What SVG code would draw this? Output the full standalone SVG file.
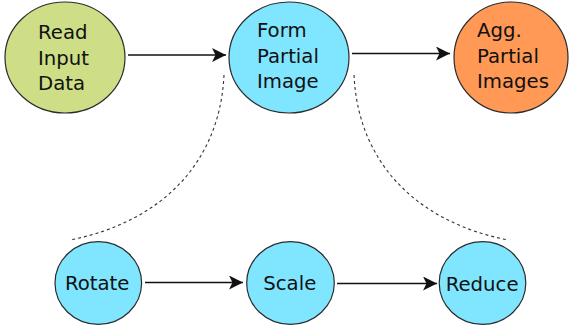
<svg xmlns="http://www.w3.org/2000/svg" width="570" height="329" viewBox="0 0 570 329">
<defs>
<style>
.n{stroke:#2b2b2b;stroke-width:1.2}
.t{font-family:"DejaVu Sans",sans-serif;font-size:19.7px;fill:#111}
.e{stroke:#111;stroke-width:1.6;fill:none}
.d{stroke:#333;stroke-width:1.1;fill:none;stroke-dasharray:3,3}
</style>
<marker id="ah" viewBox="0 0 10 10" refX="10" refY="5" markerWidth="14" markerHeight="14" markerUnits="userSpaceOnUse" orient="auto">
<path d="M0,0 L10,5 L0,10 L2.5,5 z" fill="#111"/>
</marker>
</defs>
<rect width="570" height="329" fill="#fff"/>
<g id="connectors">
<line class="e" x1="128" y1="55" x2="226" y2="55" marker-end="url(#ah)"/>
<line class="e" x1="352" y1="53.5" x2="450" y2="53.5" marker-end="url(#ah)"/>
<line class="e" x1="145" y1="282.5" x2="243" y2="282.5" marker-end="url(#ah)"/>
<line class="e" x1="337" y1="283.5" x2="437" y2="283.5" marker-end="url(#ah)"/>
<path class="d" d="M224,75 C220,162 162,222 70,240"/>
<path class="d" d="M354,75 C358,162 416,222 508,240"/>
</g>
<g id="read">
<ellipse class="n" cx="65" cy="57.5" rx="60" ry="55.5" fill="#cdde87"/>
<text class="t" x="38" y="39.3">Read</text>
<text class="t" x="38" y="64.5">Input</text>
<text class="t" x="38" y="90">Data</text>
</g>
<g id="form">
<ellipse class="n" cx="289" cy="57.5" rx="60" ry="55.5" fill="#80e5ff"/>
<text class="t" x="257" y="36.7">Form</text>
<text class="t" x="257" y="62.7">Partial</text>
<text class="t" x="257" y="88.3">Image</text>
</g>
<g id="agg">
<ellipse class="n" cx="511" cy="57.5" rx="57" ry="55.5" fill="#ff9955"/>
<text class="t" x="477" y="36.5">Agg.</text>
<text class="t" x="477" y="62.5">Partial</text>
<text class="t" x="477" y="88">Images</text>
</g>
<g id="rotate">
<ellipse class="n" cx="98.3" cy="283" rx="43.3" ry="41.3" fill="#80e5ff"/>
<text class="t" x="65" y="290">Rotate</text>
</g>
<g id="scale">
<ellipse class="n" cx="290.5" cy="283" rx="43.8" ry="41.3" fill="#80e5ff"/>
<text class="t" x="263.3" y="290">Scale</text>
</g>
<g id="reduce">
<ellipse class="n" cx="482.5" cy="283" rx="43.3" ry="41.3" fill="#80e5ff"/>
<text class="t" x="445.7" y="290.5">Reduce</text>
</g>
</svg>
